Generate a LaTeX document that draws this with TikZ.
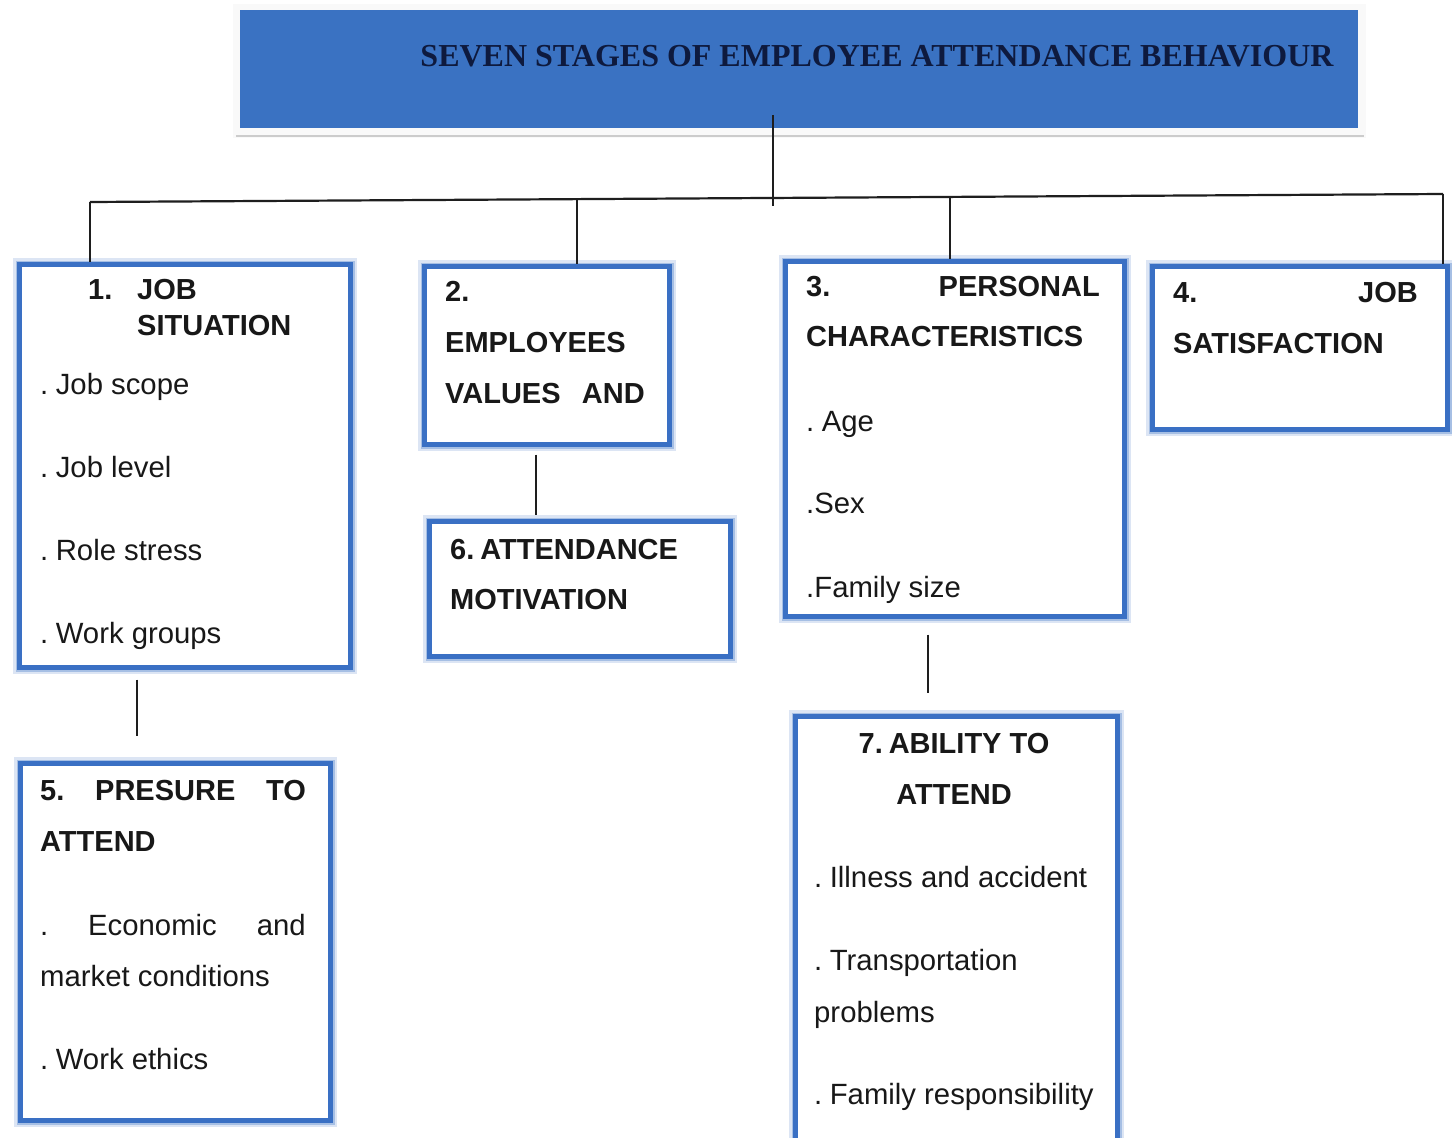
\documentclass[tikz,border=0pt]{standalone}
\usepackage{fontspec}
\setmainfont{Liberation Sans}
\newfontfamily\titlefont{Liberation Serif}
\definecolor{barblue}{RGB}{58,114,194}
\definecolor{boxblue}{RGB}{58,112,196}
\definecolor{navy}{RGB}{14,26,62}
\definecolor{ink}{RGB}{24,24,24}
\definecolor{wire}{RGB}{30,30,30}
\newcommand{\gapdot}{.\hspace{7.5pt}}
\tikzset{
  stagebox/.style={draw=boxblue, line width=5pt, fill=white, rectangle, inner sep=0pt,
    anchor=north west,
    preaction={draw=boxblue!18, line width=13pt},
    preaction={draw=boxblue!45, line width=8pt}},
  head/.style={font=\fontsize{29}{34}\selectfont\bfseries, text=ink, inner sep=0pt},
  item/.style={font=\fontsize{29.3}{34}\selectfont, text=ink, inner sep=0pt},
  link/.style={draw=wire, line width=2.2pt},
}
\begin{document}
\begin{tikzpicture}[x=1pt,y=-1pt]
\useasboundingbox[fill=white] (0,0) rectangle (1452,1138);

% title bar with its soft frame
\fill[gray!5] (233,4) rectangle (1366,138);
\draw[gray!40, line width=2.5pt] (236,136) -- (1364,136);
\node[fill=barblue, minimum width=1118pt, minimum height=118pt, inner sep=0pt,
      anchor=north west] (title) at (240,10) {};
\node[font=\titlefont\fontsize{32}{36}\selectfont\bfseries, text=navy, inner sep=0pt,
      anchor=base] (titletext) at (877,66) {SEVEN STAGES OF EMPLOYEE ATTENDANCE BEHAVIOUR};

% stage boxes
\node[stagebox, minimum width=331pt, minimum height=403pt] (b1) at (17,262) {};
\node[stagebox, minimum width=245pt, minimum height=178pt] (b2) at (422,264) {};
\node[stagebox, minimum width=339pt, minimum height=355pt] (b3) at (783,259) {};
\node[stagebox, minimum width=295pt, minimum height=163pt] (b4) at (1150,264) {};
\node[stagebox, minimum width=310pt, minimum height=357pt] (b5) at (18,761) {};
\node[stagebox, minimum width=301pt, minimum height=135pt] (b6) at (427,519) {};
\node[stagebox, minimum width=322pt, minimum height=428pt] (b7) at (793,714) {};

% tree wiring
\coordinate (tl) at (773,206);
\coordinate (busL) at (90,202);
\coordinate (busR) at (1443,194);
\coordinate (d2) at (577,199);
\coordinate (d3) at (950,197);
\coordinate (c15) at (137,0);
\coordinate (c26) at (536,0);
\coordinate (c37) at (928,0);
\draw[link] ([yshift=13pt]title.south -| tl) -- (tl);
\draw[link] (busL) -- (busR);
\draw[link] (busL) -- (b1.north -| busL);
\draw[link] (d2) -- (b2.north -| d2);
\draw[link] (d3) -- (b3.north -| d3);
\draw[link] (busR) -- (b4.north -| busR);
\draw[link, shorten <=9.5pt, shorten >=25.5pt] (b1.south -| c15) -- (b5.north -| c15);
\draw[link, shorten <=7.5pt, shorten >=4.5pt] (b2.south -| c26) -- (b6.north -| c26);
\draw[link, shorten <=15.5pt, shorten >=21.5pt] (b3.south -| c37) -- (b7.north -| c37);

% 1. job situation
\node[head, anchor=base west] (t1a) at (88,299) {1.};
\node[head, anchor=base west] (t1b) at (137,299) {JOB};
\node[head, anchor=base west] (t1c) at (137,335) {SITUATION};
\node[item, anchor=base west] (t1d) at (40,394) {\gapdot Job scope};
\node[item, anchor=base west] (t1e) at (40,477) {\gapdot Job level};
\node[item, anchor=base west] (t1f) at (40,560) {\gapdot Role stress};
\node[item, anchor=base west] (t1g) at (40,643) {\gapdot Work groups};

% 2. employees values and
\node[head, anchor=base west] (t2a) at (445,301) {2.};
\node[head, anchor=base west] (t2b) at (445,352) {EMPLOYEES};
\node[head, anchor=base west] (t2c) at (445,403) {VALUES};
\node[head, anchor=base east] (t2d) at (645,403) {AND};

% 3. personal characteristics
\node[head, anchor=base west] (t3a) at (806,296) {3.};
\node[head, anchor=base east] (t3b) at (1100,296) {PERSONAL};
\node[head, anchor=base west] (t3c) at (806,346) {CHARACTERISTICS};
\node[item, anchor=base west] (t3d) at (806,431) {\gapdot Age};
\node[item, anchor=base west] (t3e) at (806,513) {.Sex};
\node[item, anchor=base west] (t3f) at (806,597) {.Family size};

% 4. job satisfaction
\node[head, anchor=base west] (t4a) at (1173,302) {4.};
\node[head, anchor=base east] (t4b) at (1418,302) {JOB};
\node[head, anchor=base west] (t4c) at (1173,353) {SATISFACTION};

% 5. presure to attend
\node[head, anchor=base west] (t5a) at (40,800) {5.};
\node[head, anchor=base west] (t5b) at (95,800) {PRESURE};
\node[head, anchor=base east] (t5c) at (306,800) {TO};
\node[head, anchor=base west] (t5d) at (40,851) {ATTEND};
\node[item, anchor=base west] (t5e) at (40,935) {.};
\node[item, anchor=base west] (t5f) at (88,935) {Economic};
\node[item, anchor=base east] (t5g) at (306,935) {and};
\node[item, anchor=base west] (t5h) at (40,986) {market conditions};
\node[item, anchor=base west] (t5i) at (40,1069) {\gapdot Work ethics};

% 6. attendance motivation
\node[head, anchor=base west] (t6a) at (450,559) {6.\hspace{6pt}ATTENDANCE};
\node[head, anchor=base west] (t6b) at (450,609) {MOTIVATION};

% 7. ability to attend
\node[head, anchor=base] (t7a) at (954,753) {7.\hspace{6pt}ABILITY TO};
\node[head, anchor=base] (t7b) at (954,804) {ATTEND};
\node[item, anchor=base west] (t7c) at (814,887) {\gapdot Illness and accident};
\node[item, anchor=base west] (t7d) at (814,970) {\gapdot Transportation};
\node[item, anchor=base west] (t7e) at (814,1022) {problems};
\node[item, anchor=base west] (t7f) at (814,1104) {\gapdot Family responsibility};
\end{tikzpicture}
\end{document}
